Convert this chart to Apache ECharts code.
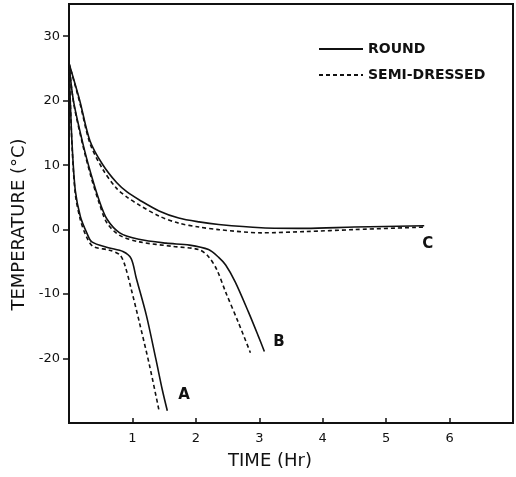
<!DOCTYPE html>
<html>
<head>
<meta charset="utf-8">
<script src="https://cdn.jsdelivr.net/npm/echarts@6/dist/echarts.min.js"></script>
<style>
html,body{margin:0;padding:0;background:#fff;}
#chart{width:516px;height:477px;}
</style>
</head>
<body>
<div id="chart"></div>
<script>
// Tick labels
const xTicks = [1, 2, 3, 4, 5, 6];
const yTicks = [-20, -10, 0, 10, 20, 30];

// Curve A: [time (hr), temperature (°C)]
const aRound = [[0,25.8],[0.02,20],[0.05,13],[0.1,6],[0.18,2.0],[0.28,-0.5],[0.36,-1.9],[0.62,-2.8],[0.85,-3.4],[0.98,-4.5],[1.06,-7.5],[1.22,-13.3],[1.37,-20.1],[1.47,-24.8],[1.55,-28.1]];
const aSemi  = [[0,25.8],[0.02,20],[0.05,12.5],[0.1,5.5],[0.18,1.5],[0.28,-1.2],[0.38,-2.6],[0.64,-3.2],[0.8,-3.9],[0.88,-5.5],[0.98,-9.2],[1.11,-14.4],[1.27,-21.1],[1.42,-28.1]];

// Curve B
const bRound = [[0,25.8],[0.07,20],[0.22,13.3],[0.35,8.5],[0.48,4.4],[0.6,1.6],[0.8,-0.5],[1.1,-1.5],[1.53,-2.1],[1.9,-2.4],[2.2,-3.1],[2.36,-4.3],[2.47,-5.5],[2.62,-8.1],[2.83,-12.8],[2.98,-16.4],[3.08,-18.9]];
const bSemi  = [[0,25.8],[0.07,19.8],[0.22,13],[0.35,8.1],[0.48,4.0],[0.6,1.0],[0.8,-0.9],[1.11,-1.9],[1.63,-2.6],[2.05,-3.1],[2.2,-4.2],[2.33,-6.2],[2.47,-9.7],[2.67,-14.4],[2.86,-19.1]];

// Curve C
const cRound = [[0,25.8],[0.17,20],[0.33,13.8],[0.53,10.1],[0.75,7.3],[0.92,5.8],[1.11,4.6],[1.42,2.9],[1.73,1.8],[2.05,1.2],[2.36,0.8],[3.03,0.3],[3.73,0.2],[4.5,0.4],[5.6,0.6]];
const cSemi  = [[0,25.8],[0.17,19.7],[0.33,13.4],[0.53,9.4],[0.75,6.4],[0.92,5.0],[1.11,3.8],[1.42,2.1],[1.73,1.0],[2.05,0.4],[2.36,0],[3.03,-0.5],[3.73,-0.3],[4.5,0],[5.6,0.4]];

const FONT = 'DejaVu Sans';
const INK = '#111';

function curve(name, data, dashed, label, offset) {
  const s = {
    name: name,
    type: 'line',
    data: data,
    smooth: 0.3,
    symbol: 'none',
    showSymbol: false,
    animation: false,
    lineStyle: { color: INK, width: 1.6, type: dashed ? [4, 3] : 'solid' },
    itemStyle: { color: INK }
  };
  if (label) {
    s.endLabel = {
      show: true,
      formatter: label,
      offset: offset,
      color: INK,
      fontFamily: FONT,
      fontSize: 15,
      fontWeight: 'bold'
    };
  }
  return s;
}

const chart = echarts.init(document.getElementById('chart'));
chart.setOption({
  backgroundColor: '#fff',
  animation: false,
  grid: {
    left: 69, right: 3, top: 4, bottom: 54,
    show: true, borderColor: INK, borderWidth: 2
  },
  legend: {
    orient: 'vertical',
    left: 318,
    top: 42,
    padding: 0,
    itemWidth: 44,
    itemHeight: 12,
    itemGap: 12,
    data: ['ROUND', 'SEMI-DRESSED'],
    itemStyle: { opacity: 0 },
    textStyle: { color: INK, fontFamily: FONT, fontSize: 14, fontWeight: 'bold' },
    selectedMode: false
  },
  xAxis: {
    type: 'value',
    min: 0, max: 7, interval: 1,
    name: 'TIME (Hr)',
    nameLocation: 'middle',
    nameGap: 29,
    nameTextStyle: { color: INK, fontFamily: FONT, fontSize: 18, padding: [0, 42, 0, 0] },
    axisLine: { show: true, onZero: false, lineStyle: { color: INK, width: 2 } },
    axisTick: { show: true, inside: true, length: 5, customValues: xTicks, lineStyle: { color: INK, width: 1.5 } },
    axisLabel: {
      color: INK, fontFamily: FONT, fontSize: 13, margin: 9,
      customValues: xTicks
    },
    splitLine: { show: false }
  },
  yAxis: {
    type: 'value',
    min: -30, max: 35, interval: 10,
    name: 'TEMPERATURE (°C)',
    nameLocation: 'middle',
    nameRotate: 90,
    nameGap: 38,
    nameTextStyle: { color: INK, fontFamily: FONT, fontSize: 18, padding: [0, 22, 0, 0] },
    axisLine: { show: true, onZero: false, lineStyle: { color: INK, width: 2 } },
    axisTick: { show: true, inside: false, length: 6, customValues: yTicks, lineStyle: { color: INK, width: 1.5 } },
    axisLabel: {
      color: INK, fontFamily: FONT, fontSize: 13, margin: 9,
      customValues: yTicks
    },
    splitLine: { show: false }
  },
  series: [
    curve('ROUND', aRound, false, 'A', [3, -16]),
    curve('SEMI-DRESSED', aSemi, true),
    curve('ROUND', bRound, false, 'B', [1, -9]),
    curve('SEMI-DRESSED', bSemi, true),
    curve('ROUND', cRound, false, 'C', [-10, 18]),
    curve('SEMI-DRESSED', cSemi, true)
  ]
});
</script>
</body>
</html>
